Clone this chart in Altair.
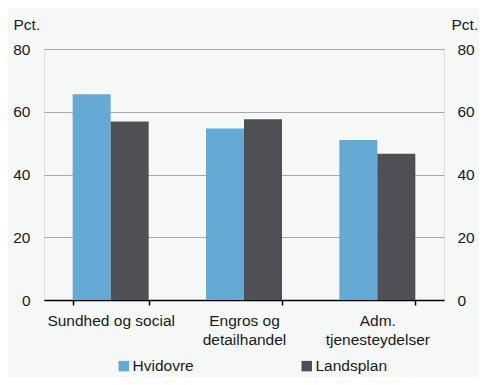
import altair as alt
import pandas as pd

categories = ["Sundhed og social", "Engros og|detailhandel", "Adm.|tjenesteydelser"]
series = ["Hvidovre", "Landsplan"]
hvidovre = [65.6, 54.7, 51.0]
landsplan = [56.9, 57.6, 46.6]
colors = ["#64aad5", "#4f5055"]
y_ticks = [0, 20, 40, 60, 80]

rows = []
for i, c in enumerate(categories):
    rows.append({"cat": c, "serie": series[0], "value": hvidovre[i]})
    rows.append({"cat": c, "serie": series[1], "value": landsplan[i]})
df = pd.DataFrame(rows)

W, H = 400, 251
FONT = "Liberation Sans"
FS = 15.5
TXT = "#1a1a1a"

x_enc = alt.X(
    "cat:N",
    sort=categories,
    title=None,
    scale=alt.Scale(paddingInner=0.43, paddingOuter=0.215),
    axis=alt.Axis(
        labelExpr="split(datum.label, '|')",
        labelAngle=0,
        labelPadding=8,
        labelFontSize=FS,
        labelColor=TXT,
        labelLineHeight=19,
        domainColor="#000000",
        domainWidth=1.5,
        tickColor="#000000",
        tickWidth=1.5,
        tickSize=5,
        tickBand="extent",
        grid=False,
    ),
)

y_scale = alt.Scale(domain=[0, 80], nice=False)

bars = alt.Chart(df).mark_bar().encode(
    x=x_enc,
    xOffset=alt.XOffset("serie:N", sort=series),
    y=alt.Y(
        "value:Q",
        scale=y_scale,
        axis=alt.Axis(
            orient="left",
            values=y_ticks,
            grid=True,
            gridColor="#a8a8a8",
            gridWidth=1,
            domain=False,
            ticks=False,
            labelPadding=14,
            labelFontSize=FS,
            labelColor=TXT,
            title="Pct.",
            titleAngle=0,
            titleX=-31,
            titleY=-25,
            titleAlign="left",
            titleBaseline="middle",
            titleFontSize=FS,
            titleFontWeight="normal",
            titleColor=TXT,
        ),
    ),
    color=alt.Color(
        "serie:N",
        sort=series,
        scale=alt.Scale(domain=series, range=colors),
        legend=alt.Legend(
            title=None,
            orient="none",
            direction="horizontal",
            legendX=72,
            legendY=309,
            symbolType="square",
            symbolSize=110,
            symbolStrokeWidth=0,
            labelFontSize=FS,
            labelColor=TXT,
            labelOffset=1,
            columnPadding=94,
            gridAlign="all",
        ),
    ),
)

right = alt.Chart(df).mark_bar(opacity=0).encode(
    x=alt.X("cat:N", sort=categories, title=None),
    y=alt.Y(
        "value:Q",
        scale=y_scale,
        axis=alt.Axis(
            orient="right",
            values=y_ticks,
            grid=False,
            domain=False,
            ticks=False,
            labelPadding=13,
            labelFontSize=FS,
            labelColor=TXT,
            title="Pct.",
            titleAngle=0,
            titleX=7,
            titleY=-25,
            titleAlign="left",
            titleBaseline="middle",
            titleFontSize=FS,
            titleFontWeight="normal",
            titleColor=TXT,
        ),
    ),
)

chart = (
    alt.layer(bars, right)
    .resolve_axis(y="independent")
    .properties(
        width=W,
        height=H,
        background="#f6f8f7",
        padding={"left": 36, "top": 41, "right": 35, "bottom": 77},
        autosize=alt.AutoSizeParams(type="none"),
    )
    .configure_view(stroke=None)
    .configure(font=FONT)
)

chart.save("out.html", embed_options={"renderer": "svg", "actions": False})
